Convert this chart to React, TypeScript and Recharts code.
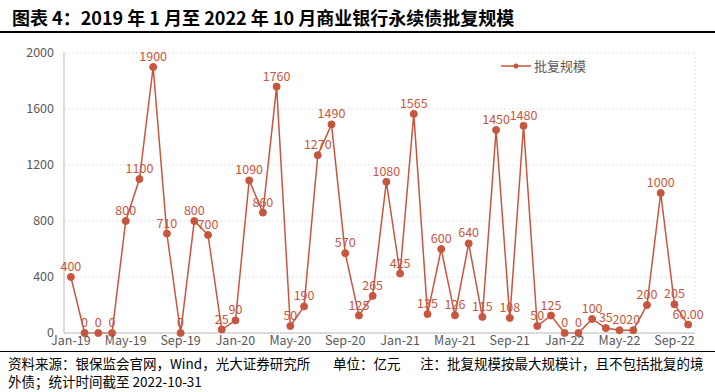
import { LineChart, Line, XAxis, YAxis, CartesianGrid, LabelList } from 'recharts';

// monthly approvals, Jan-19 .. Oct-22 (亿元)
const values2019 = [400, 0, 0, 0, 800, 1100, 1900, 710, 0, 800, 700, 25];
const values2020 = [90, 1090, 860, 1760, 50, 190, 1270, 1490, 570, 125, 265, 1080];
const values2021 = [425, 1565, 135, 600, 126, 640, 115, 1450, 108, 1480, 50, 125];
const values2022 = [0, 0, 100, 35, 20, 20, 200, 1000, 205, 60];

const monthNames = ['Jan', 'Feb', 'Mar', 'Apr', 'May', 'Jun', 'Jul', 'Aug', 'Sep', 'Oct', 'Nov', 'Dec'];
const years = ['19', '20', '21', '22'];

const labelTicks = [0, 4, 8, 12, 16, 20, 24, 28, 32, 36, 40, 44];
const gridTicks = [4.5, 9.5, 14.5, 19.5, 24.5, 29.5, 34.5, 39.5, 44.5];
const yTicks = [0, 400, 800, 1200, 1600, 2000];

const allValues = [...values2019, ...values2020, ...values2021, ...values2022];
const monthLabels = years.flatMap((y) => monthNames.map((m) => `${m}-${y}`));
const data = allValues.map((v, i) => ({ i, v, month: monthLabels[i] }));

const RED = '#c8553d';
const TEXT = '#595959';
const FONT = '"Noto Sans CJK SC", "Noto Sans", sans-serif';

export default function App() {
  return (
    <div style={{ position: 'relative', width: 715, height: 392, background: '#fff', fontFamily: FONT }}>
      <style>{`body{margin:0}`}</style>

      {/* Title */}
      <div style={{ position: 'absolute', left: 12, top: 4, fontSize: 18, fontWeight: 700, color: '#000', whiteSpace: 'nowrap' }}>
        图表 4：2019 年 1 月至 2022 年 10 月商业银行永续债批复规模
      </div>
      <div style={{ position: 'absolute', left: 0, top: 31, width: 715, height: 2, background: '#000' }} />

      <div style={{ position: 'absolute', left: 0, top: 0 }}>
        <LineChart width={715} height={392} data={data} margin={{ top: 53, right: 20, bottom: 39, left: 0 }}>
          <CartesianGrid xAxisId="grid" stroke="#e3e3e3" strokeDasharray="2 2" />
          <XAxis
            xAxisId="grid"
            dataKey="i"
            type="number"
            domain={[-0.5, 45.5]}
            ticks={gridTicks}
            height={0}
            axisLine={false}
            tick={false}
            tickSize={4}
            tickLine={{ stroke: '#bfbfbf' }}
          />
          <XAxis
            dataKey="i"
            type="number"
            domain={[-0.5, 45.5]}
            ticks={labelTicks}
            tickFormatter={(i: number) => monthLabels[i]}
            height={20}
            tickLine={false}
            tickSize={0}
            tickMargin={3}
            axisLine={{ stroke: '#bfbfbf' }}
            tick={{ fill: TEXT, fontSize: 12.5, fontFamily: FONT }}
            interval={0}
          />
          <YAxis
            domain={[0, 2000]}
            ticks={yTicks}
            width={64}
            tickLine={false}
            tickSize={0}
            tickMargin={10}
            axisLine={{ stroke: '#bfbfbf' }}
            tick={{ fill: TEXT, fontSize: 12.5, fontFamily: FONT }}
          />
          <Line
            type="linear"
            dataKey="v"
            stroke={RED}
            strokeWidth={1.5}
            dot={{ r: 3.5, fill: RED, stroke: RED, strokeWidth: 1 }}
            isAnimationActive={false}
          >
            <LabelList
              dataKey="v"
              position="top"
              offset={6}
              fill={RED}
              fontSize={12.5}
              fontFamily={FONT}
              formatter={(v: number) => (v === 60 ? '60.00' : v)}
            />
          </Line>
        </LineChart>
      </div>

      {/* Legend */}
      <div style={{ position: 'absolute', left: 500, top: 56, display: 'flex', alignItems: 'center', color: TEXT, fontSize: 13 }}>
        <svg width={32} height={10} style={{ marginRight: 2 }}>
          <line x1={1} y1={5} x2={31} y2={5} stroke={RED} strokeWidth={1.5} />
          <circle cx={16} cy={5} r={2.5} fill={RED} />
        </svg>
        <span>批复规模</span>
      </div>

      {/* Footer */}
      <div style={{ position: 'absolute', left: 0, top: 351, width: 715, height: 1, background: '#000' }} />
      <div style={{ position: 'absolute', left: 8, top: 354, fontSize: 13.5, color: '#000', whiteSpace: 'nowrap', lineHeight: '19px' }}>
        资料来源：银保监会官网，Wind，光大证券研究所
      </div>
      <div style={{ position: 'absolute', left: 333, top: 354, fontSize: 13.5, color: '#000', whiteSpace: 'nowrap', lineHeight: '19px' }}>
        单位：亿元
      </div>
      <div style={{ position: 'absolute', left: 420, top: 354, fontSize: 13.5, color: '#000', whiteSpace: 'nowrap', lineHeight: '19px' }}>
        注：批复规模按最大规模计，且不包括批复的境
      </div>
      <div style={{ position: 'absolute', left: 8, top: 372, fontSize: 13.5, color: '#000', whiteSpace: 'nowrap', lineHeight: '19px' }}>
        外债；统计时间截至 2022-10-31
      </div>
    </div>
  );
}
